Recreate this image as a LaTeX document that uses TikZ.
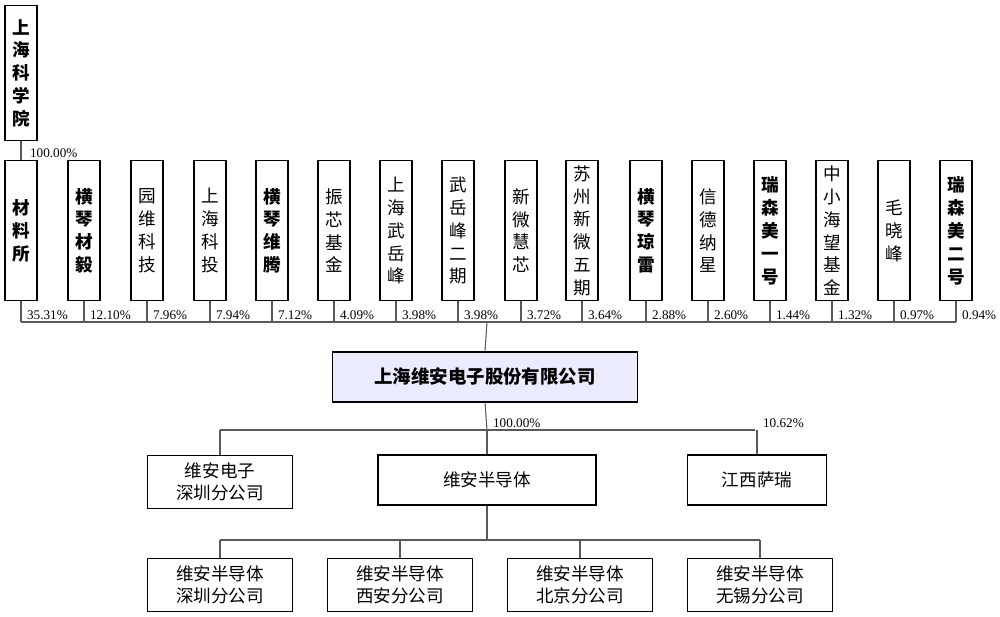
\documentclass[tikz,border=0pt]{standalone}
\usepackage{fontspec}
\setmainfont{Liberation Serif}
\newfontfamily\cjk{Noto Sans CJK SC}
\usetikzlibrary{positioning}
\tikzset{
  holder/.style={draw,thick,anchor=north,minimum width=0.64cm,minimum height=2.8cm,
    inner sep=1pt,align=center,font=\cjk\fontsize{10}{13}\selectfont},
  bholder/.style={holder,font=\cjk\bfseries\fontsize{10}{13}\selectfont},
  sub/.style={draw,thick,minimum width=2.9cm,minimum height=1.05cm,align=center,
    font=\cjk\fontsize{10}{12.5}\selectfont},
  pct/.style={font=\fontsize{7.5}{9}\selectfont,inner sep=1pt},
  link/.style={semithick,gray!70!black}
}
\begin{document}
\begin{tikzpicture}[x=0.02cm,y=-0.02cm]
\useasboundingbox (0,0) rectangle (1000,617);
% parent
\node[bholder,minimum height=2.7cm] (kxy) at (21,5) {上\\海\\科\\学\\院};
\node[pct,anchor=south west] at (28,160) {100.00\%};
% shareholders
\foreach \n/\x/\t/\s/\p in {
 clz/21/材\\料\\所/bholder/35.31,
 hqcy/84/横\\琴\\材\\毅/bholder/12.10,
 ywkj/147/园\\维\\科\\技/holder/7.96,
 shkt/210/上\\海\\科\\投/holder/7.94,
 hqwt/272/横\\琴\\维\\腾/bholder/7.12,
 zxjj/334/振\\芯\\基\\金/holder/4.09,
 shwyf/396/上\\海\\武\\岳\\峰/holder/3.98,
 wyfeq/458/武\\岳\\峰\\二\\期/holder/3.98,
 xwhx/521/新\\微\\慧\\芯/holder/3.72,
 szxw/582/苏\\州\\新\\微\\五\\期/holder/3.64,
 hqql/646/横\\琴\\琼\\雷/bholder/2.88,
 xdnx/708/信\\德\\纳\\星/holder/2.60,
 rsm1/770/瑞\\森\\美\\一\\号/bholder/1.44,
 zxhw/832/中\\小\\海\\望\\基\\金/holder/1.32,
 mxf/894/毛\\晓\\峰/holder/0.97,
 rsm2/956/瑞\\森\\美\\二\\号/bholder/0.94}{
  \node[\s] (\n) at (\x,160) {\t};
  \draw[link] (\n.south) -- (\x,322);
  \node[pct,anchor=south west] at (\x+4,322) {\p\%};
}
\draw[link] (kxy.south) -- (clz.north);
\draw[link] (21,322) -- (956,322);
% company
\node[draw,thick,fill=blue!8,minimum width=6.1cm,minimum height=1cm,
  font=\cjk\bfseries\fontsize{10.5}{12}\selectfont] (wa) at (485,377) {上海维安电子股份有限公司};
\draw[link] (487,322) -- (wa.north);
\coordinate (bus) at (487,430);
\draw[link] (wa.south) -- (bus);
\draw[link] (220,430) -- (755,430);
\node[sub] (szfg) at (220,482) {维安电子\\深圳分公司};
\node[sub,minimum width=4.36cm,minimum height=1cm] (wabdt) at (487,480) {维安半导体};
\node[sub,minimum width=2.78cm,minimum height=1cm] (jxsr) at (757,480) {江西萨瑞};
\draw[link] (220,430) -- (szfg.north);
\draw[link] (bus) -- (wabdt.north);
\draw[link] (757,430) -- (jxsr.north);
\node[pct,anchor=south west] at (491,430) {100.00\%};
\node[pct,anchor=south west] at (761,430) {10.62\%};
% branches
\draw[link] (wabdt.south) -- (487,540);
\draw[link] (220,540) -- (760,540);
\foreach \n/\x/\t in {fsz/220/深圳分公司, fxa/400/西安分公司, fbj/580/北京分公司, fwx/760/无锡分公司}{
  \node[sub] (\n) at (\x,585) {维安半导体\\\t};
  \draw[link] (\x,540) -- (\n.north);
}
\end{tikzpicture}
\end{document}
